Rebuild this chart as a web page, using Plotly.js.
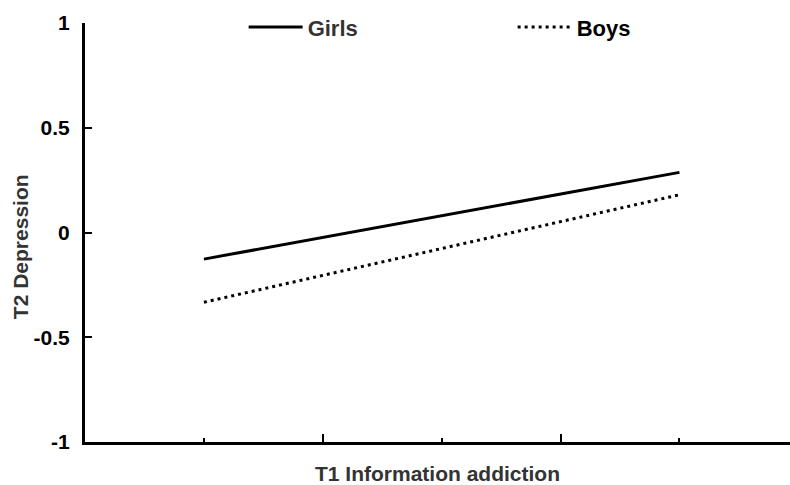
<!DOCTYPE html>
<html>
<head>
<meta charset="utf-8">
<script src="https://cdn.plot.ly/plotly-3.0.1.min.js"></script>
<style>html,body{margin:0;padding:0;background:#fff}#chart{width:790px;height:485px}</style>
</head>
<body>
<div id="chart"></div>
<script>
// Data
const xLevels = [1, 5];            // low / high T1 Information addiction
const girls = [-0.127, 0.287];
const boys = [-0.333, 0.180];
const yTicks = [-1, -0.5, 0, 0.5, 1];
const yTickText = ["-1", "-0.5", "0", "0.5", "1"];
const seriesNames = ["Girls", "<span style='color:#000'>Boys</span>"];
const yTitle = "T2 Depression";
const xTitle = "T1 Information addiction";

const FONT = "Liberation Sans, Arial, sans-serif";

const traces = [
  {x: xLevels, y: girls, name: seriesNames[0], mode: "lines", type: "scatter",
   line: {color: "#000", width: 3, dash: "solid"}},
  {x: xLevels, y: boys, name: seriesNames[1], mode: "lines", type: "scatter",
   line: {color: "#000", width: 3, dash: "3px,4px"}}
];

const layout = {
  width: 790, height: 485,
  margin: {l: 85, r: 0, t: 23, b: 43},
  paper_bgcolor: "#fff", plot_bgcolor: "#fff",
  font: {family: FONT, color: "#000"},
  showlegend: true,
  legend: {orientation: "h", x: 0.225, xanchor: "left", y: 0.99, yanchor: "middle",
    entrywidth: 200, entrywidthmode: "pixels", itemwidth: 54,
    font: {size: 22, color: "#333", family: FONT, weight: "bold"},
    bgcolor: "rgba(0,0,0,0)"},
  xaxis: {range: [0, 5.93], showgrid: false, zeroline: false, showline: true,
    linecolor: "#000", linewidth: 3, ticks: "inside", tickmode: "array", tickvals: [2, 4],
    ticklen: 8, tickwidth: 2, tickcolor: "#000", showticklabels: false,
    minor: {tickmode: "array", tickvals: [1, 3, 5], ticks: "inside", ticklen: 4, tickwidth: 2, tickcolor: "#000", showgrid: false},
    title: {text: xTitle, standoff: 25,
      font: {size: 21, color: "#333", family: FONT, weight: "bold"}}},
  yaxis: {range: [-1, 1], showgrid: false, zeroline: false, showline: true,
    linecolor: "#000", linewidth: 3, ticks: "inside", ticklen: 7, tickwidth: 2, tickcolor: "#000",
    tickmode: "array", tickvals: yTicks, ticktext: yTickText, ticklabelstandoff: 8,
    tickfont: {size: 21, color: "#000", family: FONT, weight: "bold"}},
  annotations: [{text: yTitle, textangle: -90, xref: "paper", yref: "paper",
    x: -65 / 705, y: 0.465, xanchor: "center", yanchor: "middle", showarrow: false,
    font: {size: 21, color: "#333", family: FONT, weight: "bold"}}]
};

Plotly.newPlot("chart", traces, layout, {displayModeBar: false, staticPlot: true});
</script>
</body>
</html>
